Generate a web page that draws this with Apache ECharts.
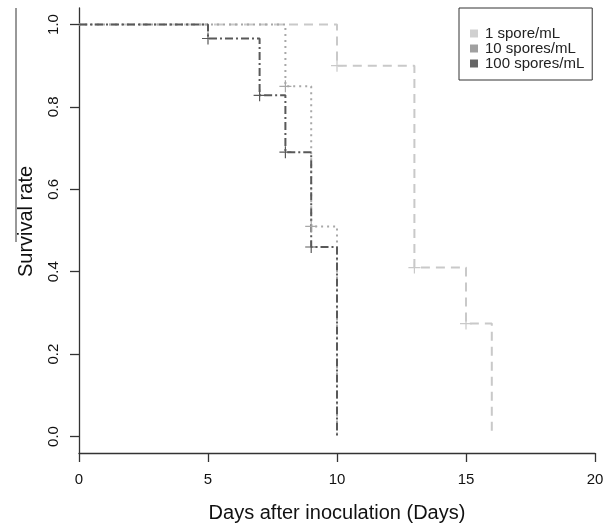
<!DOCTYPE html>
<html>
<head>
<meta charset="utf-8">
<script src="https://cdn.jsdelivr.net/npm/echarts@6/dist/echarts.min.js"></script>
<style>
  html, body { margin: 0; padding: 0; background: #fff; }
  #chart { width: 607px; height: 524px; }
</style>
</head>
<body>
<div id="chart"></div>
<script>
  // Kaplan-Meier style survival curves
  const groupNames = ['1 spore/mL', '10 spores/mL', '100 spores/mL']

  const days1 = [0, 10, 13, 15, 16]
  const surv1 = [1, 0.9, 0.41, 0.274, 0]
  const censorDays1 = [10, 13, 15]
  const censorSurv1 = [0.9, 0.41, 0.274]

  const days10 = [0, 8, 9, 10]
  const surv10 = [1, 0.85, 0.51, 0]
  const censorDays10 = [8, 9]
  const censorSurv10 = [0.85, 0.51]

  const days100 = [0, 5, 7, 8, 9, 10]
  const surv100 = [1, 0.966, 0.828, 0.69, 0.46, 0]
  const censorDays100 = [5, 7, 8, 9]
  const censorSurv100 = [0.966, 0.828, 0.69, 0.46]

  const xTicks = [0, 5, 10, 15, 20]
  const yTicks = [0, 0.2, 0.4, 0.6, 0.8, 1.0]

  const colors = ['#c9c9c9', '#a8a8a8', '#595959']
  const legendColors = ['#d0d0d0', '#a0a0a0', '#666666']
  const dashes = [[9, 6], [2, 4], [8, 3, 2, 3]]

  const plus = 'path://M0,4.5H4.5V0H5.5V4.5H10V5.5H5.5V10H4.5V5.5H0Z'
  const font = 'Liberation Sans, Arial, sans-serif'

  function pairs(xs, ys) {
    return xs.map((x, i) => [x, ys[i]])
  }

  const curves = [
    pairs(days1, surv1),
    pairs(days10, surv10),
    pairs(days100, surv100)
  ]
  const censors = [
    pairs(censorDays1, censorSurv1),
    pairs(censorDays10, censorSurv10),
    pairs(censorDays100, censorSurv100)
  ]

  let series = []
  groupNames.map((name, i) => {
    series.push({
      name: name,
      type: 'line',
      step: 'end',
      symbol: 'none',
      data: curves[i],
      lineStyle: { color: colors[i], width: 2, type: dashes[i] },
      itemStyle: { color: colors[i] },
      z: 2 + i
    })
    series.push({
      name: name + ' censored',
      type: 'scatter',
      symbol: plus,
      symbolSize: 12,
      data: censors[i],
      itemStyle: { color: colors[i], opacity: 1 },
      z: 5 + i
    })
  })

  const chart = echarts.init(document.getElementById('chart'))
  chart.setOption({
    animation: false,
    textStyle: { fontFamily: font },
    grid: { left: 79, right: 12, top: 8, bottom: 71, containLabel: false, outerBoundsMode: 'none' },
    legend: {
      orient: 'vertical',
      left: 459,
      top: 8,
      padding: [18, 8, 9, 11],
      itemGap: 0,
      itemWidth: 8,
      itemHeight: 8,
      icon: 'rect',
      borderColor: '#333',
      borderWidth: 1,
      borderRadius: 0,
      textStyle: { fontFamily: font, fontSize: 15, color: '#222', lineHeight: 14, padding: [0, 0, 0, 2] },
      data: groupNames.map((n, i) => ({ name: n, itemStyle: { color: legendColors[i] } }))
    },
    xAxis: {
      type: 'value',
      min: 0,
      max: 20,
      name: 'Days after inoculation (Days)',
      nameLocation: 'middle',
      nameGap: 50,
      nameTextStyle: { fontFamily: font, fontSize: 20, color: '#111' },
      splitLine: { show: false },
      axisLine: { onZero: false, lineStyle: { color: '#333', width: 1.3 } },
      axisTick: { length: 9, customValues: xTicks, lineStyle: { color: '#333', width: 1.3 } },
      axisLabel: { customValues: xTicks, fontSize: 15, color: '#111', margin: 19, fontFamily: font }
    },
    yAxis: {
      type: 'value',
      min: -0.04,
      max: 1.04,
      name: 'Survival rate',
      nameLocation: 'middle',
      nameRotate: 90,
      nameGap: 43,
      nameTextStyle: { fontFamily: font, fontSize: 20, color: '#111', padding: [0, 0, 0, 18] },
      splitLine: { show: false },
      axisLine: { show: true, onZero: false, lineStyle: { color: '#333', width: 1.3 } },
      axisTick: { show: true, length: 9, customValues: yTicks, lineStyle: { color: '#333', width: 1.3 } },
      axisLabel: {
        customValues: yTicks,
        rotate: 90,
        fontSize: 15,
        color: '#111',
        margin: 18,
        fontFamily: font,
        formatter: v => v.toFixed(1)
      }
    },
    graphic: [
      {
        type: 'line',
        shape: { x1: 16, y1: 8, x2: 16, y2: 242 },
        style: { stroke: '#333', lineWidth: 1 }
      }
    ],
    series: series
  })
</script>
</body>
</html>
